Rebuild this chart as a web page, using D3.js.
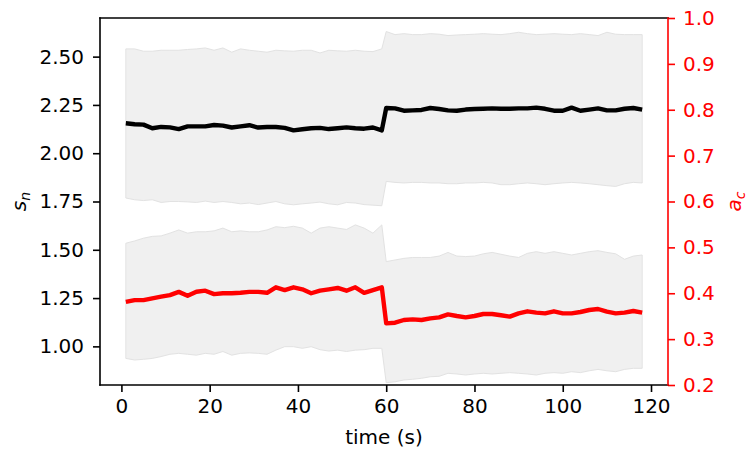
<!DOCTYPE html>
<html><head><meta charset="utf-8">
<script src="https://cdn.jsdelivr.net/npm/d3@7"></script>
<style>body{margin:0;background:#fff} text{font-family:"DejaVu Sans",sans-serif}</style>
</head><body><svg id="c" width="747" height="455"></svg>
<script>
const time = [1,3,5,7,9,11,13,15,17,19,21,23,25,27,29,31,33,35,37,39,41,43,45,47,49,51,53,55,57,59,
  60,62,64,66,68,70,72,74,76,78,80,82,84,86,88,90,92,94,96,98,100,102,104,106,108,110,112,114,116,118];
const snMean = [2.155,2.150,2.148,2.129,2.136,2.134,2.125,2.139,2.139,2.139,2.146,2.143,2.133,2.139,2.145,2.133,2.136,2.136,2.131,2.118,2.124,2.129,2.131,2.125,2.129,2.134,2.129,2.127,2.133,2.118,
  2.234,2.232,2.220,2.222,2.224,2.234,2.229,2.222,2.220,2.226,2.229,2.230,2.232,2.230,2.230,2.232,2.232,2.236,2.230,2.220,2.220,2.236,2.220,2.226,2.232,2.222,2.222,2.230,2.234,2.226];
const snUpper = [2.540,2.540,2.528,2.528,2.533,2.533,2.533,2.537,2.540,2.545,2.533,2.545,2.523,2.540,2.533,2.528,2.523,2.533,2.530,2.528,2.533,2.533,2.519,2.533,2.530,2.528,2.533,2.528,2.526,2.540,
  2.630,2.614,2.619,2.614,2.614,2.619,2.616,2.609,2.612,2.614,2.616,2.619,2.616,2.614,2.619,2.626,2.619,2.614,2.616,2.619,2.616,2.614,2.619,2.614,2.609,2.626,2.616,2.614,2.614,2.614];
const snLower = [1.768,1.759,1.755,1.759,1.745,1.750,1.750,1.748,1.745,1.752,1.745,1.750,1.745,1.738,1.742,1.734,1.742,1.750,1.738,1.733,1.738,1.742,1.747,1.738,1.733,1.745,1.742,1.734,1.731,1.728,
  1.854,1.849,1.846,1.849,1.849,1.846,1.846,1.842,1.842,1.846,1.846,1.849,1.846,1.837,1.837,1.842,1.846,1.842,1.837,1.842,1.846,1.849,1.846,1.842,1.837,1.832,1.828,1.842,1.849,1.846];
const acMean = [0.381,0.385,0.385,0.389,0.3925,0.396,0.403,0.3947,0.4034,0.4056,0.398,0.400,0.400,0.401,0.403,0.403,0.401,0.413,0.407,0.413,0.4086,0.400,0.4056,0.4086,0.4115,0.4056,0.413,0.401,0.407,0.413,
  0.3344,0.3358,0.3417,0.343,0.3417,0.3453,0.3475,0.354,0.3504,0.3475,0.3504,0.3548,0.3548,0.352,0.349,0.3562,0.3606,0.3577,0.3562,0.3606,0.3562,0.3562,0.3591,0.3635,0.3657,0.3598,0.3562,0.3577,0.3613,0.3577];
const acUpper = [0.509,0.514,0.520,0.524,0.525,0.531,0.538,0.531,0.534,0.534,0.536,0.542,0.534,0.536,0.534,0.534,0.538,0.545,0.543,0.546,0.542,0.531,0.542,0.545,0.542,0.539,0.549,0.542,0.531,0.549,
  0.469,0.4725,0.476,0.478,0.478,0.478,0.481,0.489,0.481,0.480,0.481,0.486,0.489,0.485,0.481,0.478,0.487,0.4906,0.487,0.4906,0.487,0.4834,0.487,0.4906,0.4928,0.489,0.486,0.474,0.481,0.4834];
const acLower = [0.258,0.2545,0.256,0.258,0.262,0.267,0.269,0.267,0.265,0.269,0.267,0.273,0.265,0.269,0.270,0.269,0.267,0.276,0.2835,0.2835,0.280,0.2835,0.277,0.274,0.276,0.273,0.276,0.277,0.280,0.280,
  0.205,0.207,0.211,0.2125,0.2146,0.218,0.219,0.2255,0.224,0.2218,0.224,0.2255,0.224,0.2255,0.227,0.2255,0.224,0.2218,0.2255,0.227,0.2255,0.229,0.227,0.231,0.234,0.231,0.229,0.234,0.2364,0.2364];
const xTicks = [0,20,40,60,80,100,120];
const snTicks = [1.00,1.25,1.50,1.75,2.00,2.25,2.50];
const acTicks = [0.2,0.3,0.4,0.5,0.6,0.7,0.8,0.9,1.0];

const L=100, R=668, T=18, B=385;
const svg = d3.select("#c");
const x = d3.scaleLinear().domain([-4.85,123.85]).range([L,R]);
const yL = d3.scaleLinear().domain([0.8,2.7]).range([B,T]);
const yR = d3.scaleLinear().domain([0.2,1.0]).range([B,T]);

svg.append("defs").append("clipPath").attr("id","clip")
  .append("rect").attr("x",L).attr("y",T).attr("width",R-L).attr("height",B-T);
const g = svg.append("g").attr("clip-path","url(#clip)");

const idx = d3.range(time.length);
function band(lo, hi, ys){
  g.append("path").datum(idx)
    .attr("d", d3.area().x(i=>x(time[i])).y0(i=>ys(lo[i])).y1(i=>ys(hi[i])))
    .attr("fill","#f0f0f0").attr("stroke","#e2e2e2").attr("stroke-width",1);
}
function line(vals, ys, col){
  g.append("path").datum(idx)
    .attr("d", d3.line().x(i=>x(time[i])).y(i=>ys(vals[i])))
    .attr("fill","none").attr("stroke",col).attr("stroke-width",4.4)
    .attr("stroke-linejoin","round").attr("stroke-linecap","butt");
}
band(snLower, snUpper, yL);
line(snMean, yL, "#000");
band(acLower, acUpper, yR);
line(acMean, yR, "#ff0000");

function styleAxis(sel, col){
  sel.select(".domain").remove();
  sel.selectAll(".tick line").attr("stroke",col).attr("stroke-width",1.6);
  sel.selectAll(".tick text").attr("fill",col).style("font-size","20px").style("font-family","DejaVu Sans");
}
svg.append("g").attr("transform",`translate(0,${B})`)
  .call(d3.axisBottom(x).tickValues(xTicks).tickSize(7).tickPadding(7).tickFormat(d3.format("d")))
  .call(s=>styleAxis(s,"#000"));
svg.append("g").attr("transform",`translate(${L},0)`)
  .call(d3.axisLeft(yL).tickValues(snTicks).tickSize(7).tickPadding(9).tickFormat(d3.format(".2f")))
  .call(s=>styleAxis(s,"#000"));
svg.append("g").attr("transform",`translate(${R},0)`)
  .call(d3.axisRight(yR).tickValues(acTicks).tickSize(7).tickPadding(8).tickFormat(d3.format(".1f")))
  .call(s=>styleAxis(s,"#ff0000"));

// spines
const sp = svg.append("g").attr("stroke-width",1.6).attr("stroke-linecap","square");
sp.append("line").attr("x1",L).attr("x2",R).attr("y1",T).attr("y2",T).attr("stroke","#000");
sp.append("line").attr("x1",L).attr("x2",R).attr("y1",B).attr("y2",B).attr("stroke","#000");
sp.append("line").attr("x1",L).attr("x2",L).attr("y1",T).attr("y2",B).attr("stroke","#000");
sp.append("line").attr("x1",R).attr("x2",R).attr("y1",T).attr("y2",B).attr("stroke","#ff0000");

// axis labels
svg.append("text").attr("x",(L+R)/2).attr("y",444).attr("text-anchor","middle")
  .style("font-size","20px").text("time (s)");
const ls = svg.append("text").attr("transform",`translate(26,${(T+B)/2}) rotate(-90)`)
  .attr("text-anchor","middle").style("font-size","20px");
ls.append("tspan").style("font-style","italic").text("s");
ls.append("tspan").attr("dy",4).style("font-size","14px").style("font-style","italic").text("n");
const la = svg.append("text").attr("transform",`translate(741,${(T+B)/2}) rotate(-90)`)
  .attr("text-anchor","middle").attr("fill","#ff0000").style("font-size","20px");
la.append("tspan").style("font-style","italic").text("a");
la.append("tspan").attr("dy",4).style("font-size","14px").style("font-style","italic").text("c");
</script></body></html>
